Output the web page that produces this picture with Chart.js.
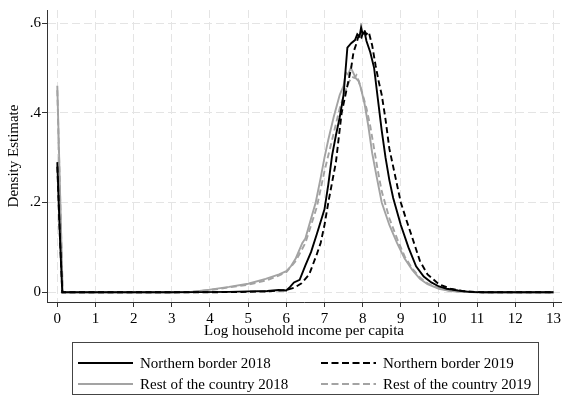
<!DOCTYPE html>
<html>
<head>
<meta charset="utf-8">
<script src="https://cdn.jsdelivr.net/npm/chart.js@4/dist/chart.umd.min.js"></script>
<style>
	html, body { margin: 0; padding: 0; background: #fff; }
	#wrap { position: relative; width: 564px; height: 399px; }
	#legend {
		position: absolute; left: 72px; top: 342px; width: 467px; height: 53px;
		border: 1px solid #444; box-sizing: border-box;
		font-family: "Liberation Serif", "Times New Roman", serif; font-size: 15px; color: #000;
	}
	#legend .item { position: absolute; display: flex; align-items: center; white-space: nowrap; height: 16px; }
	#legend svg { margin-right: 7px; }
</style>
</head>
<body>
<div id="wrap">
	<canvas id="chart" width="564" height="399"></canvas>
	<div id="legend"></div>
</div>
<script>
// series labels
const seriesNames = ['Northern border 2018', 'Northern border 2019', 'Rest of the country 2018', 'Rest of the country 2019'];

// Northern border 2018
const nb18X = [0, 0.07, 0.13, 1, 2, 3, 3.7, 4.5, 5, 5.5, 5.8, 6.0, 6.1, 6.2, 6.35, 6.5, 6.65, 6.8, 7.0, 7.1, 7.2, 7.3, 7.4, 7.5, 7.6, 7.7, 7.8, 7.86, 7.92, 7.96, 8.0, 8.05, 8.1, 8.2, 8.3, 8.4, 8.5, 8.6, 8.7, 8.8, 9.0, 9.2, 9.4, 9.6, 9.8, 10.0, 10.2, 10.5, 10.8, 11.2, 12, 13];
const nb18Y = [0.29, 0.12, 0, 0, 0, 0, 0.0005, 0.001, 0.002, 0.003, 0.005, 0.004, 0.012, 0.022, 0.028, 0.06, 0.09, 0.13, 0.185, 0.24, 0.305, 0.35, 0.39, 0.44, 0.545, 0.555, 0.562, 0.575, 0.57, 0.59, 0.575, 0.58, 0.56, 0.535, 0.50, 0.43, 0.36, 0.30, 0.25, 0.21, 0.15, 0.10, 0.058, 0.035, 0.022, 0.013, 0.008, 0.004, 0.001, 0, 0, 0];

// Northern border 2019
const nb19X = [0, 0.07, 0.13, 1, 2, 3, 4, 5, 5.5, 6.0, 6.2, 6.4, 6.6, 6.8, 6.9, 7.0, 7.1, 7.2, 7.3, 7.45, 7.6, 7.7, 7.76, 7.84, 7.9, 7.97, 8.03, 8.1, 8.16, 8.25, 8.34, 8.42, 8.5, 8.6, 8.7, 8.86, 9.0, 9.15, 9.28, 9.5, 9.7, 10.0, 10.3, 10.6, 11.1, 12, 13];
const nb19Y = [0.28, 0.12, 0, 0, 0, 0, 0, 0.001, 0.002, 0.005, 0.01, 0.02, 0.04, 0.085, 0.11, 0.15, 0.2, 0.245, 0.29, 0.40, 0.46, 0.5, 0.535, 0.555, 0.574, 0.568, 0.585, 0.575, 0.58, 0.55, 0.505, 0.47, 0.44, 0.385, 0.32, 0.256, 0.20, 0.16, 0.127, 0.07, 0.04, 0.018, 0.008, 0.003, 0, 0, 0];

// Rest of the country 2018
const rc18X = [0, 0.07, 0.14, 1, 2, 3, 3.5, 4, 4.5, 5, 5.46, 5.81, 6.0, 6.12, 6.25, 6.42, 6.5, 6.6, 6.77, 6.9, 7.0, 7.1, 7.24, 7.4, 7.5, 7.56, 7.62, 7.69, 7.75, 7.82, 7.9, 7.95, 8.05, 8.15, 8.25, 8.35, 8.5, 8.7, 8.9, 9.1, 9.3, 9.5, 9.7, 10.0, 10.3, 10.6, 11, 12, 13];
const rc18Y = [0.46, 0.23, 0, 0, 0, 0, 0.001, 0.006, 0.012, 0.019, 0.03, 0.04, 0.047, 0.058, 0.076, 0.11, 0.12, 0.15, 0.20, 0.255, 0.30, 0.34, 0.39, 0.44, 0.46, 0.49, 0.485, 0.50, 0.49, 0.477, 0.47, 0.456, 0.42, 0.37, 0.31, 0.265, 0.20, 0.15, 0.11, 0.075, 0.05, 0.03, 0.018, 0.008, 0.003, 0.001, 0, 0, 0];

// Rest of the country 2019
const rc19X = [0, 0.07, 0.14, 1, 2, 3, 3.5, 4, 5, 5.5, 5.8, 6.0, 6.25, 6.5, 6.8, 7.0, 7.2, 7.4, 7.55, 7.65, 7.72, 7.78, 7.84, 7.9, 7.97, 8.1, 8.2, 8.3, 8.4, 8.5, 8.7, 8.9, 9.1, 9.3, 9.5, 9.7, 10.0, 10.3, 10.6, 11, 12, 13];
const rc19Y = [0.45, 0.225, 0, 0, 0, 0, 0.001, 0.005, 0.017, 0.027, 0.037, 0.045, 0.07, 0.11, 0.19, 0.27, 0.34, 0.41, 0.45, 0.47, 0.48, 0.478, 0.484, 0.47, 0.45, 0.41, 0.37, 0.32, 0.27, 0.225, 0.165, 0.12, 0.08, 0.053, 0.033, 0.02, 0.009, 0.003, 0.001, 0, 0, 0];

// axis ticks
const xTicks = [0, 1, 2, 3, 4, 5, 6, 7, 8, 9, 10, 11, 12, 13];
const yTicks = [0, 0.2, 0.4, 0.6];

const SERIF = '"Liberation Serif", "Times New Roman", serif';
const GREY = '#a3a3a3';
const DASH = [6, 3.5];

function pts (xs, ys) {
	return xs.map((x, i) => ({ x: x, y: ys[i] }));
}

const styles = [
	{ color: '#000', dash: [] },
	{ color: '#000', dash: DASH },
	{ color: GREY, dash: [] },
	{ color: GREY, dash: DASH },
];
const series = [[nb18X, nb18Y], [nb19X, nb19Y], [rc18X, rc18Y], [rc19X, rc19Y]];

const datasets = series.map((s, i) => ({
	label: seriesNames[i],
	data: pts(s[0], s[1]),
	borderColor: styles[i].color,
	borderDash: styles[i].dash,
	borderWidth: 1.9,
	pointRadius: 0,
	tension: 0,
	fill: false,
}));

const gridOpts = {
	color: '#e4e4e4',
	lineWidth: 1,
	tickLength: 5,
	tickColor: '#333',
	tickBorderDash: [],
};

const chart = new Chart(document.getElementById('chart'), {
	type: 'line',
	data: { datasets: datasets },
	options: {
		responsive: false,
		animation: false,
		layout: { padding: { left: 0, right: 1, top: 0, bottom: 0 } },
		plugins: { legend: { display: false }, tooltip: { enabled: false } },
		scales: {
			x: {
				type: 'linear',
				min: -0.27,
				max: 13.2,
				afterBuildTicks: axis => { axis.ticks = xTicks.map(v => ({ value: v })); },
				afterFit: axis => { axis.height = 97; },
				ticks: { color: '#000', padding: 3, maxRotation: 0, font: { family: SERIF, size: 15 } },
				grid: gridOpts,
				border: { color: '#333', width: 1, dash: [8, 4] },
				title: {
					display: true,
					text: 'Log household income per capita',
					color: '#000',
					font: { family: SERIF, size: 15 },
					padding: { top: 0, bottom: 59 },
				},
			},
			y: {
				min: -0.0216,
				max: 0.629,
				afterBuildTicks: axis => { axis.ticks = yTicks.map(v => ({ value: v })); },
				afterFit: axis => { axis.width = 47; },
				ticks: {
					color: '#000',
					padding: 1,
					font: { family: SERIF, size: 15 },
					callback: v => v === 0 ? '0' : String(v).replace('0.', '.'),
				},
				grid: gridOpts,
				border: { color: '#333', width: 1, dash: [8, 4] },
				title: {
					display: true,
					text: 'Density Estimate',
					color: '#000',
					font: { family: SERIF, size: 15 },
					padding: { top: 5, bottom: 0 },
				},
			},
		},
	},
});

// html legend, two columns, built from the datasets
const legendEl = document.getElementById('legend');
const colLeft = [5, 248];
const rowTop = [12, 33];
chart.data.datasets.forEach((ds, i) => {
	const item = document.createElement('div');
	item.className = 'item';
	item.style.left = colLeft[i % 2] + 'px';
	item.style.top = rowTop[Math.floor(i / 2)] + 'px';
	const dash = ds.borderDash.length ? ` stroke-dasharray="7 3.5"` : '';
	item.innerHTML = `<svg width="55" height="4"><line x1="0" y1="2" x2="55" y2="2" stroke="${ds.borderColor}" stroke-width="2"${dash}/></svg><span>${ds.label}</span>`;
	legendEl.appendChild(item);
});
</script>
</body>
</html>
